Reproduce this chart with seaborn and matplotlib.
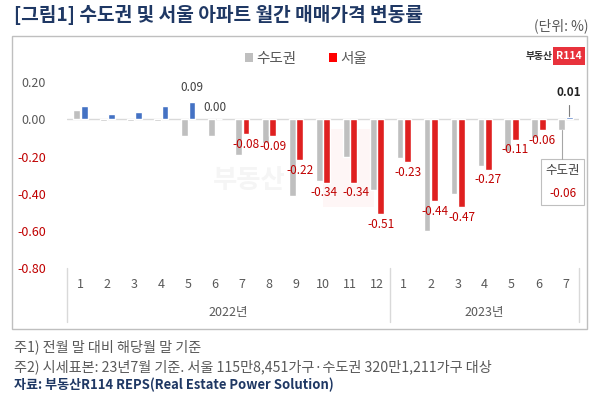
import matplotlib
matplotlib.use('Agg')
import matplotlib.pyplot as plt
from matplotlib.patches import Patch, Rectangle
import matplotlib.transforms as mtrans
import numpy as np
import pandas as pd
import seaborn as sns

# data (monthly change, %)
periods = ['2022-%02d' % m for m in range(1, 13)] + ['2023-%02d' % m for m in range(1, 8)]
month_labels = [str(m) for m in range(1, 13)] + [str(m) for m in range(1, 8)]
metro = [0.05, -0.01, -0.01, -0.01, -0.09, -0.09, -0.19, -0.13, -0.41, -0.33, -0.20, -0.38,
         -0.21, -0.60, -0.40, -0.25, -0.17, -0.10, -0.06]
seoul = [0.07, 0.03, 0.04, 0.07, 0.09, 0.00, -0.08, -0.09, -0.22, -0.34, -0.34, -0.51,
         -0.23, -0.44, -0.47, -0.27, -0.11, -0.06, 0.01]
seoul_labeled = list(range(4, 18))   # months with a value label on the Seoul bar
years = ['2022년', '2023년']
yticks = [0.2, 0.0, -0.2, -0.4, -0.6, -0.8]

sns.set_style('white')
plt.rcParams['font.family'] = ['Noto Sans CJK KR', 'DejaVu Sans']

GRAY = '#bfbfbf'
RED = '#ff0000'
BLUE = '#4472c4'
DRED = '#c00000'
TXT = '#595959'
NAVY = '#1f3864'

df = pd.DataFrame({
    'period': periods * 2,
    'value': metro + seoul,
    'region': ['수도권'] * len(periods) + ['서울'] * len(periods),
})

fig = plt.figure(figsize=(6, 3.98), dpi=100)
ax = fig.add_axes([67 / 600, 1 - 268.3 / 398, 512 / 600, 186.3 / 398])
ax.set_facecolor('none')

sns.barplot(data=df, x='period', y='value', hue='region',
            palette={'수도권': GRAY, '서울': RED}, width=0.56, gap=0.1,
            legend=False, ax=ax)

# seoul positive bars are blue
for p, v in zip(ax.containers[1].patches, seoul):
    if v > 0:
        p.set_facecolor(BLUE)

ax.set_xlim(-0.5, len(periods) - 0.5)
ax.set_ylim(-0.8, 0.2)
ax.axhline(0, color='#d9d9d9', lw=1, zorder=0.5)
for s in ax.spines.values():
    s.set_visible(False)
ax.set_xlabel('')
ax.set_ylabel('')
ax.tick_params(length=0)
ax.set_yticks(yticks)
ax.set_yticklabels(['%.2f' % t for t in yticks], fontsize=9)
for lab, t in zip(ax.get_yticklabels(), yticks):
    lab.set_color(DRED if t < 0 else TXT)
ax.tick_params(axis='y', pad=15)
ax.set_xticks(range(len(periods)))
ax.set_xticklabels(month_labels, fontsize=9, color=TXT)
ax.tick_params(axis='x', pad=7)

# year group separators and labels
bt = mtrans.blended_transform_factory(ax.transData, ax.transAxes)
for xs in [-0.5, 11.5, len(periods) - 0.5]:
    ax.plot([xs, xs], [0, -0.29], transform=bt, color='#d9d9d9', lw=1, clip_on=False)
ax.text(5.5, -0.235, years[0], transform=bt, ha='center', va='center', fontsize=9, color=TXT)
ax.text(15, -0.235, years[1], transform=bt, ha='center', va='center', fontsize=9, color=TXT)

# value labels on seoul bars (a couple nudged sideways like the original)
nudge = {9: -0.12, 10: 0.1}
for i in seoul_labeled:
    v = seoul[i]
    xl = i + 0.14 + nudge.get(i, 0)
    if v < 0:
        ax.text(xl, v - 0.055, '%.2f' % v, ha='center', va='center',
                fontsize=8.5, color=DRED)
    elif v > 0:
        ax.text(xl, v + 0.08, '%.2f' % v, ha='center', va='center',
                fontsize=8.5, color='#404040')
    else:
        ax.text(i, v + 0.065, '%.2f' % v, ha='center', va='center',
                fontsize=8.5, color='#404040')

# last month callouts
last = len(periods) - 1
ax.text(last + 0.14, seoul[last] + 0.135, '%.2f' % seoul[last], ha='center', va='center',
        fontsize=8.5, fontweight='bold', color='#222222')
ax.plot([last + 0.14, last + 0.14], [seoul[last] + 0.065, seoul[last] + 0.005],
        color='#7f7f7f', lw=0.8)
ax.plot([last - 0.14, last - 0.14], [metro[last], -0.213], color='#a6a6a6', lw=0.8,
        clip_on=False)
ax.add_patch(Rectangle((17.09, -0.459), 1.59, 0.246, fill=False, edgecolor='#bfbfbf',
                       lw=0.8, clip_on=False))
ax.text(17.9, -0.277, '수도권', ha='center', va='center', fontsize=9, color='#404040')
ax.text(17.9, -0.40, '%.2f' % metro[last], ha='center', va='center', fontsize=8.5, color=DRED)

# faint watermark
ax.text(0.355, 0.47, '부동산', transform=ax.transAxes, fontsize=19, fontweight='bold',
        color='#f5f5f5', ha='center', va='center', zorder=0)
ax.add_patch(Rectangle((0.5, 0.33), 0.1, 0.42, transform=ax.transAxes,
                       facecolor='#fef6f6', edgecolor='none', zorder=0))

# legend
handles = [Patch(facecolor=GRAY, edgecolor='none'), Patch(facecolor=RED, edgecolor='none')]
fig.legend(handles, ['수도권', '서울'], loc='center', bbox_to_anchor=(306 / 600, 1 - 59 / 398),
           ncol=2, frameon=False, handlelength=0.55, handleheight=0.55, handletextpad=0.2,
           columnspacing=2.3, fontsize=10.5, labelcolor=TXT)

# logo
fig.text(553 / 600, 1 - 56 / 398, '부동산', ha='right', va='center', fontsize=7,
         fontweight='bold', color='#333333')
fig.text(569 / 600, 1 - 56 / 398, 'R114', ha='center', va='center', fontsize=7.5,
         fontweight='bold', color='white',
         bbox=dict(facecolor='#e8323c', edgecolor='none', boxstyle='square,pad=0.35'))

# chart frame
fig.add_artist(Rectangle((12 / 600, 1 - 329 / 398), 575 / 600, 293 / 398,
                         transform=fig.transFigure, fill=False, edgecolor='#bfbfbf', lw=1))

# title, unit, notes
fig.text(14 / 600, 1 - 15 / 398, '[그림1] 수도권 및 서울 아파트 월간 매매가격 변동률',
         ha='left', va='center', fontsize=13.8, fontweight='bold', color=NAVY)
fig.text(588 / 600, 1 - 26 / 398, '(단위: %)', ha='right', va='center', fontsize=10, color=TXT)
fig.text(14 / 600, 1 - 347 / 398, '주1) 전월 말 대비 해당월 말 기준', ha='left', va='center',
         fontsize=10.2, color=TXT)
fig.text(14 / 600, 1 - 367 / 398, '주2) 시세표본: 23년7월 기준. 서울 115만8,451가구·수도권 320만1,211가구 대상',
         ha='left', va='center', fontsize=10.2, color=TXT)
fig.text(14 / 600, 1 - 385 / 398, '자료: 부동산R114 REPS(Real Estate Power Solution)',
         ha='left', va='center', fontsize=9.4, fontweight='bold', color=NAVY)

fig.savefig('out.png', dpi=100)
